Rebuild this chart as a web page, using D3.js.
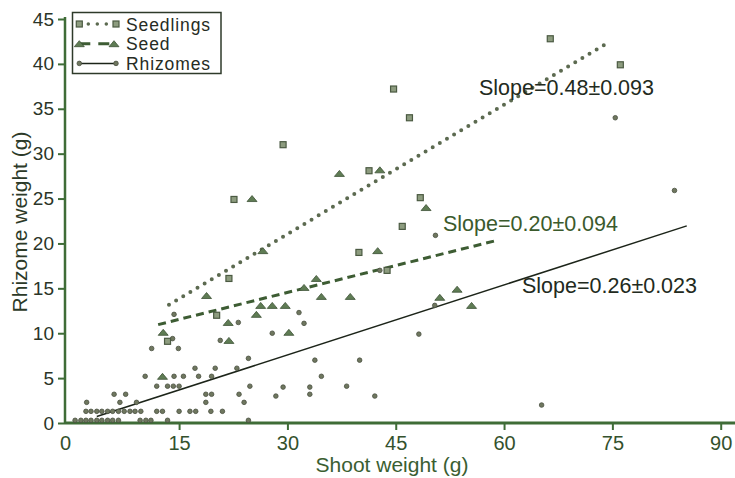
<!DOCTYPE html>
<html>
<head>
<meta charset="utf-8">
<script src="https://cdn.jsdelivr.net/npm/d3@7"></script>
<style>
  html, body { margin: 0; padding: 0; background: #fff; }
  svg { display: block; font-family: "Liberation Sans", Arial, Helvetica, sans-serif; }
</style>
</head>
<body>
<svg id="chart" width="735" height="478"></svg>
<script>
// Shoot weight (x) and rhizome weight (y), in grams, for three propagule types.
const seedlingsX = [66.4, 76.1, 44.7, 46.9, 29.4, 41.3, 48.4, 22.6, 45.9, 39.9, 21.9, 43.8, 20.2, 13.4];
const seedlingsY = [42.8, 39.9, 37.2, 34.0, 31.0, 28.1, 25.1, 24.9, 21.9, 19.0, 16.1, 17.0, 12.0, 9.1];

const seedX = [37.2, 42.8, 25.1, 49.2, 26.6, 42.5, 34.0, 18.8, 32.3, 26.3, 27.9, 29.7,
               34.7, 38.7, 51.1, 53.5, 55.5, 25.7, 21.8, 30.2, 12.8, 21.9, 12.7];
const seedY = [27.8, 28.2, 25.0, 24.0, 19.2, 19.2, 16.1, 14.2, 15.1, 13.1, 13.1, 13.1,
               14.1, 14.1, 14.0, 14.9, 13.1, 12.1, 11.2, 10.1, 10.1, 9.2, 5.2];

const rhizomesX = [
  0.6, 1.4, 2.1, 2.8, 3.6, 4.3, 5.1, 5.8, 6.6, 9.6, 10.4, 11.1, 13.4, 24.6,
  2.1, 2.8, 3.6, 4.3, 5.1, 5.8, 6.6, 7.4, 8.2, 8.9, 9.7, 11.9, 12.7, 15.0, 16.5, 17.3, 19.4, 21.0,
  2.2, 6.8, 9.1, 18.7, 24.0,
  6.0, 7.6, 18.7, 19.5, 23.3, 33.1,
  28.4, 42.1, 29.4, 33.1, 38.2, 24.8, 11.9, 13.4, 14.2, 15.0,
  10.3, 14.3, 15.6, 17.7, 19.5, 34.7,
  17.2, 20.0, 23.0, 33.8, 40.0, 24.6,
  11.2, 14.9, 20.7, 14.1, 48.2, 27.9, 23.2, 32.3, 31.6, 14.3,
  42.8, 50.4, 50.5, 65.2, 83.6, 75.4
];
const rhizomesY = [
  0.3, 0.3, 0.3, 0.3, 0.3, 0.3, 0.3, 0.3, 0.3, 0.3, 0.3, 0.3, 0.3, 0.3,
  1.3, 1.3, 1.3, 1.3, 1.3, 1.3, 1.3, 1.3, 1.3, 1.3, 1.3, 1.3, 1.3, 1.3, 1.3, 1.3, 1.3, 1.3,
  2.3, 2.3, 2.3, 2.3, 2.3,
  3.2, 3.2, 3.2, 3.2, 3.2, 3.2,
  3.0, 3.0, 4.0, 4.0, 4.1, 4.1, 4.1, 4.1, 4.1, 4.1,
  5.2, 5.2, 5.2, 5.2, 5.2, 5.2,
  6.1, 6.1, 6.1, 7.0, 7.0, 7.2,
  8.3, 8.3, 9.2, 9.4, 9.9, 10.0, 11.2, 11.1, 12.3, 12.1,
  17.0, 13.1, 20.9, 2.0, 25.9, 34.0
];

// Fitted regression lines: slope, intercept and the shoot-weight span of each fit.
const fitNames = ["Seedlings", "Seed", "Rhizomes"];
const fitSlopes = [0.48, 0.20, 0.26];
const fitSlopeErrors = ["0.093", "0.094", "0.023"];
const fitIntercepts = [6.65, 8.54, -0.22];
const fitFrom = [13.6, 12.1, 3.6];
const fitTo = [73.9, 59.0, 85.3];

const xTicks = [0, 15, 30, 45, 60, 75, 90];
const yTicks = [0, 5, 10, 15, 20, 25, 30, 35, 40, 45];

const svg = d3.select("#chart");

const x = d3.scaleLinear().domain([-0.8, 90]).range([65, 720.7]);
const y = d3.scaleLinear().domain([0, 45]).range([423, 19]);

const axisGreen = "#3f6c37";

// Axes
const gx = svg.append("g").attr("transform", "translate(0,423)")
  .call(d3.axisBottom(x).tickValues(xTicks).tickSize(7).tickSizeOuter(0).tickPadding(6));
gx.select(".domain").attr("d", "M65,0H735").attr("stroke", axisGreen).attr("stroke-width", 3);
gx.selectAll(".tick line").attr("stroke", axisGreen).attr("stroke-width", 2);
gx.selectAll(".tick text").attr("fill", "#34512d").style("font-size", "20px")
  .style("font-family", "'Liberation Sans', Arial, sans-serif");
// The origin label sits under the corner where the two axes meet.
gx.selectAll(".tick").filter(d => d === 0).each(function () {
  d3.select(this).select("line").remove();
  d3.select(this).select("text").attr("dx", x(-0.8) - x(0));
});

const gy = svg.append("g").attr("transform", "translate(65,0)")
  .call(d3.axisLeft(y).tickValues(yTicks).tickSize(7).tickSizeOuter(0).tickPadding(4));
gy.select(".domain").attr("d", "M0,423V17").attr("stroke", axisGreen).attr("stroke-width", 2.5);
gy.selectAll(".tick line").attr("stroke", axisGreen).attr("stroke-width", 2);
gy.selectAll(".tick text").attr("fill", "#2b3528").style("font-size", "19px")
  .style("font-family", "'Liberation Sans', Arial, sans-serif");

// Axis titles
svg.append("text").attr("x", 392).attr("y", 472).attr("text-anchor", "middle")
  .attr("fill", "#3a5e31").style("font-size", "21px").text("Shoot weight (g)");
svg.append("text").attr("transform", "translate(27,222) rotate(-90)").attr("text-anchor", "middle")
  .attr("fill", "#2c3a28").style("font-size", "21px").text("Rhizome weight (g)");

// Regression lines
const lineStyles = [
  { stroke: "#5c6a50", width: 4, dash: "0 8.3", cap: "round" },
  { stroke: "#3d5c33", width: 3, dash: "8 5", cap: "butt" },
  { stroke: "#1c2419", width: 1.5, dash: null, cap: "butt" }
];
fitNames.forEach((name, i) => {
  const pts = [fitFrom[i], fitTo[i]].map(v => [x(v), y(fitIntercepts[i] + fitSlopes[i] * v)]);
  svg.append("path")
    .attr("d", d3.line()(pts))
    .attr("fill", "none")
    .attr("stroke", lineStyles[i].stroke)
    .attr("stroke-width", lineStyles[i].width)
    .attr("stroke-linecap", lineStyles[i].cap)
    .attr("stroke-dasharray", lineStyles[i].dash);
});

// Marker shapes
const triPath = "M-5,3L5,3L0,-3Z";
function drawSquares(g, xs, ys) {
  g.selectAll(null).data(xs).join("rect")
    .attr("x", (d) => x(d) - 3).attr("y", (d, i) => y(ys[i]) - 3)
    .attr("width", 6).attr("height", 6)
    .attr("fill", "#8d9c7f").attr("stroke", "#4b5a42").attr("stroke-width", 1.2);
}
function drawTriangles(g, xs, ys) {
  g.selectAll(null).data(xs).join("path")
    .attr("d", triPath)
    .attr("transform", (d, i) => `translate(${x(d)},${y(ys[i])})`)
    .attr("fill", "#5f7c54").attr("stroke", "#3e5236").attr("stroke-width", 0.8);
}
function drawCircles(g, xs, ys) {
  g.selectAll(null).data(xs).join("circle")
    .attr("cx", (d) => x(d)).attr("cy", (d, i) => y(ys[i]))
    .attr("r", 2.3)
    .attr("fill", "#6f775f").attr("stroke", "#4a5141").attr("stroke-width", 0.8);
}

drawCircles(svg.append("g"), rhizomesX, rhizomesY);
drawTriangles(svg.append("g"), seedX, seedY);
drawSquares(svg.append("g"), seedlingsX, seedlingsY);

// Slope annotations
const slopeLabelPos = [[479, 95, "#222a20"], [443, 230.5, "#3b5a2c"], [522, 292.5, "#222a20"]];
fitNames.forEach((name, i) => {
  svg.append("text")
    .attr("x", slopeLabelPos[i][0]).attr("y", slopeLabelPos[i][1])
    .attr("fill", slopeLabelPos[i][2])
    .style("font-size", "21.5px")
    .text(`Slope=${fitSlopes[i].toFixed(2)}±${fitSlopeErrors[i]}`);
});

// Legend
const legend = svg.append("g");
legend.append("rect").attr("x", 72.5).attr("y", 12.5).attr("width", 148.5).attr("height", 61)
  .attr("fill", "#fff").attr("stroke", "#2e3a2a").attr("stroke-width", 1.5);
const legendRows = [24, 43.7, 63.4];
const lx0 = 79.3, lx1 = 116;
legendRows.forEach((ly, i) => {
  legend.append("line").attr("x1", lx0).attr("x2", lx1).attr("y1", ly).attr("y2", ly)
    .attr("stroke", lineStyles[i].stroke)
    .attr("stroke-width", i === 0 ? 3.5 : lineStyles[i].width)
    .attr("stroke-linecap", lineStyles[i].cap)
    .attr("stroke-dasharray", i === 0 ? "0 9" : (i === 1 ? "11 8" : null));
  legend.append("text").attr("x", 126).attr("y", ly + 6.5)
    .attr("fill", "#262c24").style("font-size", "17.5px").style("letter-spacing", "0.9px")
    .text(fitNames[i]);
});
const lg = legend.append("g");
const xInv = v => x.invert(v), yInv = v => y.invert(v);
drawSquares(lg, [xInv(lx0), xInv(lx1)], [yInv(legendRows[0]), yInv(legendRows[0])]);
drawTriangles(lg, [xInv(lx0), xInv(lx1 - 2)], [yInv(legendRows[1]), yInv(legendRows[1])]);
drawCircles(lg, [xInv(lx0), xInv(lx1)], [yInv(legendRows[2]), yInv(legendRows[2])]);
</script>
</body>
</html>
